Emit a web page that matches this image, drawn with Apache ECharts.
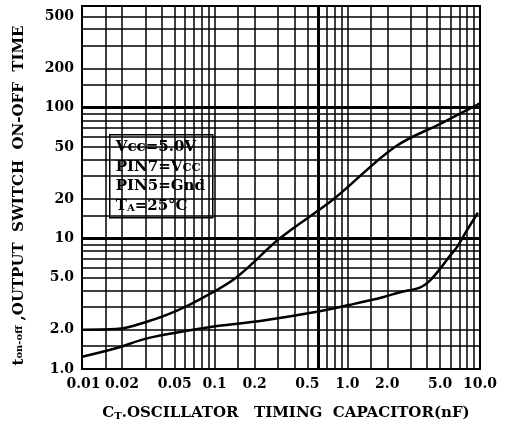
<!DOCTYPE html>
<html>
<head>
<meta charset="utf-8">
<script src="https://cdn.jsdelivr.net/npm/echarts@6/dist/echarts.min.js"></script>
<style>
html,body{margin:0;padding:0;background:#fff;}
#chart{width:505px;height:426px;}
</style>
</head>
<body>
<div id="chart"></div>
<script>
// ---- data ----
const xTickValues = [0.01, 0.02, 0.05, 0.1, 0.2, 0.5, 1, 2, 5, 10];
const xTickLabels = ['0.01', '0.02', '0.05', '0.1', '0.2', '0.5', '1.0', '2.0', '5.0', '10.0'];
const yTickValues = [1, 2, 5, 10, 20, 50, 100, 200, 500];
const yTickLabels = ['1.0', '2.0', '5.0', '10', '20', '50', '100', '200', '500'];

const xGridValues = [0.01, 0.015, 0.02, 0.03, 0.04, 0.05, 0.06, 0.07, 0.08, 0.09,
                     0.1, 0.15, 0.2, 0.3, 0.4, 0.5, 0.6, 0.7, 0.8, 0.9,
                     1, 1.5, 2, 3, 4, 5, 6, 7, 8, 9, 10];
const yGridValues = [1, 1.5, 2, 3, 4, 5, 6, 7, 8, 9,
                     10, 15, 20, 30, 40, 50, 60, 70, 80, 90,
                     100, 150, 200, 300, 400, 500, 600];
const thickGridX = [0.6];
const thickGridY = [10, 100];

const upperX = [0.01, 0.018, 0.032, 0.052, 0.078, 0.145, 0.31, 0.79, 2.28, 5.2, 10];
const upperY = [2.0, 2.02, 2.33, 2.8, 3.43, 5.0, 10, 20, 50, 76.6, 108];

const lowerX = [0.01, 0.018, 0.032, 0.104, 0.22, 0.59, 1.05, 1.85, 2.49, 3.52, 4.19, 4.99, 5.93, 6.7, 7.96, 9.64];
const lowerY = [1.24, 1.44, 1.73, 2.13, 2.33, 2.74, 3.1, 3.54, 3.87, 4.2, 4.75, 5.83, 7.35, 8.57, 11.5, 15.7];

const legendLines = ['Vcc=5.0V', 'PIN7=Vcc', 'PIN5=Gnd', 'T{s|A}=25°C'];

// ---- chart ----
const FONT = 'DejaVu Serif';
const chart = echarts.init(document.getElementById('chart'), null, {renderer: 'canvas'});

function zip(xs, ys) { return xs.map((x, i) => [x, ys[i]]); }
function findIdx(arr, v) { return arr.findIndex(t => Math.abs(t - v) / t < 1e-6); }

const gridLine = {show: true, lineStyle: {color: '#000', width: 1.5}};

const option = {
  animation: false,
  backgroundColor: '#fff',
  grid: {
    left: 82, right: 25, top: 6, bottom: 54,
    show: true, borderColor: '#000', borderWidth: 2, backgroundColor: '#fff',
    containLabel: false
  },
  xAxis: {
    type: 'log', logBase: 10, min: 0.01, max: 10,
    axisLine: {show: false},
    axisTick: {show: false, customValues: xGridValues},
    splitLine: gridLine,
    axisLabel: {
      customValues: xTickValues,
      showMinLabel: true, showMaxLabel: true, hideOverlap: false,
      margin: 8,
      color: '#000', fontFamily: FONT, fontWeight: 'bold', fontSize: 14,
      formatter: function (v) {
        const i = findIdx(xTickValues, v);
        const s = i >= 0 ? xTickLabels[i] : '';
        return i === 0 ? '{p|' + s + '}' : s;
      },
      rich: {p: {padding: [0, 0, 0, 3], fontFamily: FONT, fontWeight: 'bold', fontSize: 14, color: '#000'}}
    },
    name: 'C{s|T}.OSCILLATOR   TIMING  CAPACITOR(nF)',
    nameLocation: 'middle', nameGap: 37,
    nameTextStyle: {
      color: '#000', fontFamily: FONT, fontWeight: 'bold', fontSize: 15,
      padding: [0, 0, 0, 10],
      rich: {s: {fontFamily: FONT, fontWeight: 'bold', fontSize: 10, color: '#000', verticalAlign: 'bottom'}}
    }
  },
  yAxis: {
    type: 'log', logBase: 10, min: 1, max: 600,
    axisLine: {show: false},
    axisTick: {show: false, customValues: yGridValues},
    splitLine: gridLine,
    axisLabel: {
      customValues: yTickValues,
      showMinLabel: true, showMaxLabel: true, hideOverlap: false,
      margin: 8,
      color: '#000', fontFamily: FONT, fontWeight: 'bold', fontSize: 14,
      formatter: function (v) {
        const i = findIdx(yTickValues, v);
        return i >= 0 ? yTickLabels[i] : '';
      }
    },
    name: 't{s|on-off} ,OUTPUT  SWITCH  ON-OFF  TIME',
    nameLocation: 'middle', nameGap: 55, nameRotate: 90,
    nameTextStyle: {
      color: '#000', fontFamily: FONT, fontWeight: 'bold', fontSize: 15,
      padding: [0, 16, 0, 0],
      rich: {s: {fontFamily: FONT, fontSize: 10, color: '#000'}}
    }
  },
  series: [
    {
      type: 'line', data: zip(upperX, upperY),
      showSymbol: false, smooth: 0.35,
      lineStyle: {color: '#000', width: 2.5},
      z: 5,
      markLine: {
        silent: true, symbol: 'none', label: {show: false},
        lineStyle: {color: '#000', width: 3, type: 'solid'},
        data: thickGridX.map(v => ({xAxis: v})).concat(thickGridY.map(v => ({yAxis: v})))
      }
    },
    {
      type: 'line', data: zip(lowerX, lowerY),
      showSymbol: false, smooth: 0.35,
      lineStyle: {color: '#000', width: 2.5},
      z: 5
    }
  ],
  graphic: [
    {
      type: 'group', left: 109, top: 134, z: 100,
      children: [
        {type: 'rect', shape: {x: 0, y: 0, width: 103, height: 83},
         style: {fill: '#fff', stroke: '#000', lineWidth: 1.5}},
      ].concat(legendLines.map((t, i) => ({
        type: 'text', x: 6, y: 5 + i * 19.5,
        style: {
          text: t, fill: '#000', font: 'bold 15px "DejaVu Serif"',
          rich: {s: {fontSize: 10, fontFamily: FONT, fontWeight: 'bold', fill: '#000', verticalAlign: 'bottom'}}
        }
      })))
    }
  ]
};
chart.setOption(option);
</script>
</body>
</html>
